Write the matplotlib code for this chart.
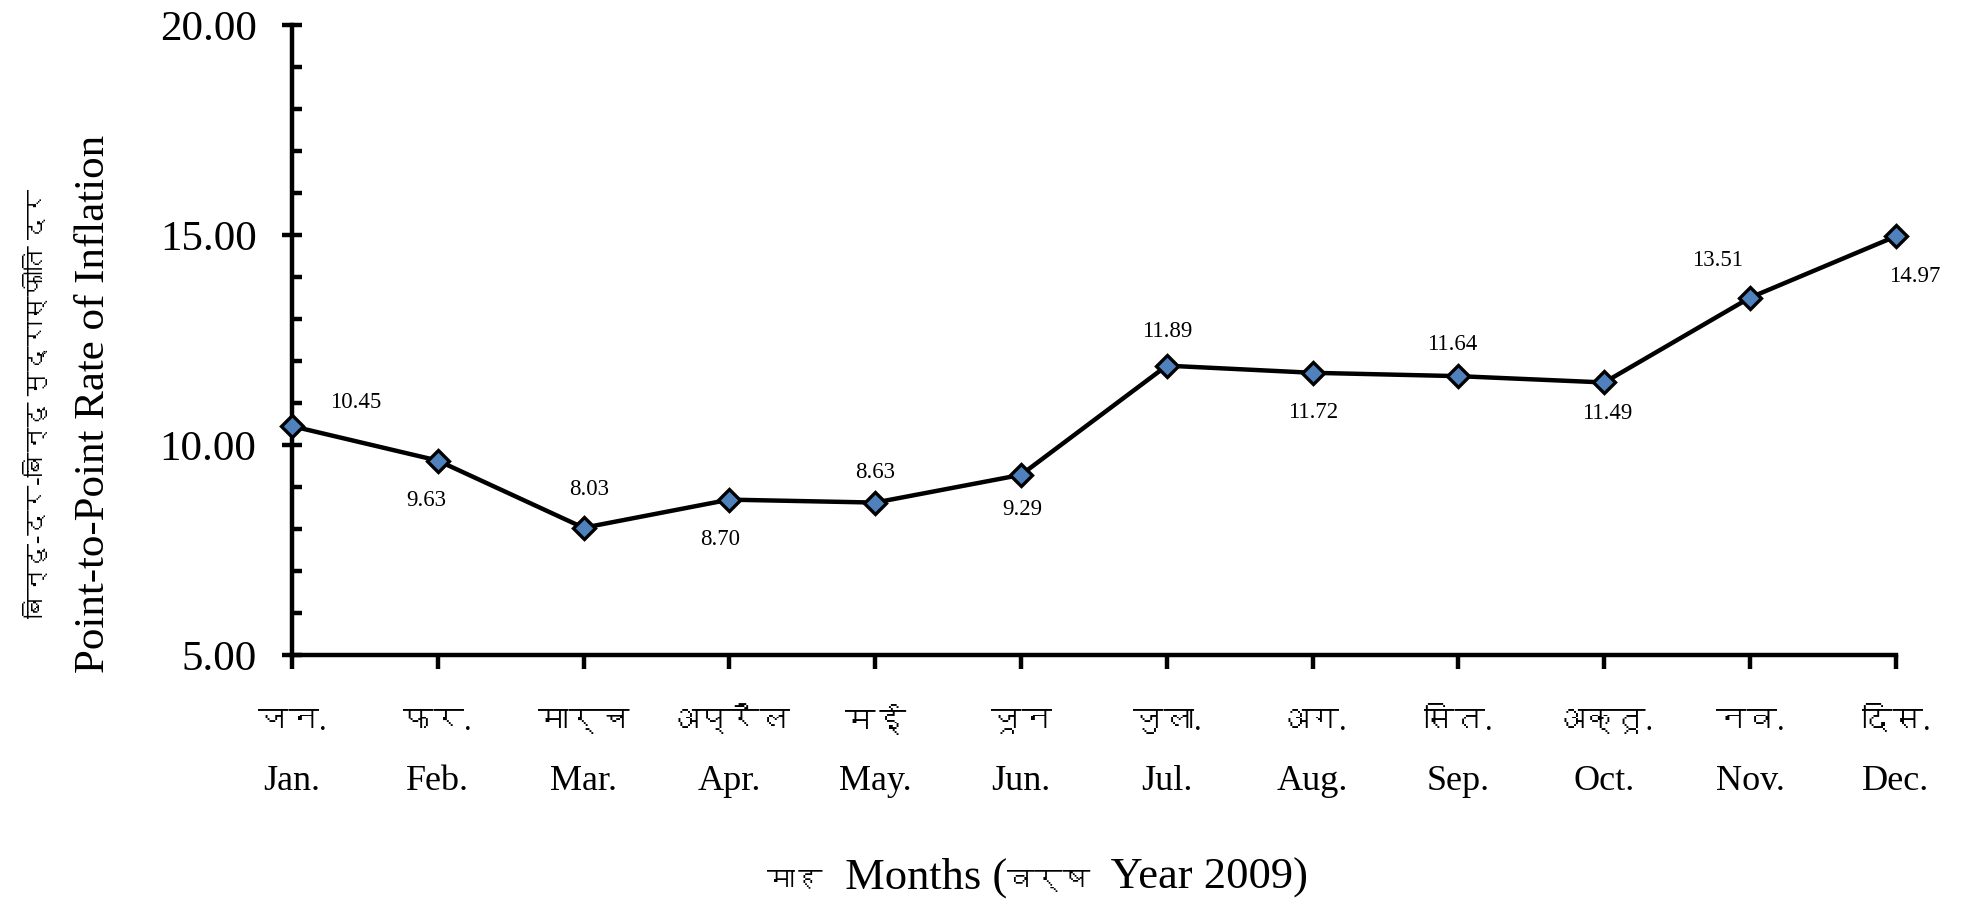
import numpy as np
import matplotlib
matplotlib.use("Agg")
import matplotlib.pyplot as plt
from matplotlib import font_manager as fm
from matplotlib.ft2font import FT2Font
from matplotlib.offsetbox import TextArea, HPacker, AnnotationBbox

# data
months_en = ["Jan.", "Feb.", "Mar.", "Apr.", "May.", "Jun.",
             "Jul.", "Aug.", "Sep.", "Oct.", "Nov.", "Dec."]
months_hi = ["जन.", "फर.", "मार्च", "अप्रैल", "मई", "जून",
             "जुला.", "अग.", "सित.", "अक्तू.", "नव.", "दिस."]
inflation = [10.45, 9.63, 8.03, 8.70, 8.63, 9.29,
             11.89, 11.72, 11.64, 11.49, 13.51, 14.97]
# label offsets in pixels (dx, dy up) relative to each marker
label_dx = [64, -12, 6, -9, 0, 1, 0, 0, -6, 3, -33, 19]
label_dy = [24, -40, 38, -40, 30, -35, 34, -40, 32, -31, 37, -40]

ylabel_en = "Point-to-Point Rate of Inflation"
ylabel_hi = "बिन्दु-दर-बिन्दु मुद्रास्फीति दर"
xlabel_parts = ["माह", "  Months (", "वर्ष", "  Year 2009)"]
xlabel_sizes = [20, 32, 20, 32]


# find some installed font that has Devanagari glyphs, if any
def find_deva():
    seen = set()
    for f in fm.fontManager.ttflist:
        if f.name in seen:
            continue
        seen.add(f.name)
        try:
            if 0x0915 in FT2Font(f.fname).get_charmap():
                return f.name
        except Exception:
            pass
    return None


deva = find_deva()
fam = ["Liberation Serif"] + ([deva] if deva else []) + ["DejaVu Sans"]
plt.rcParams["font.family"] = fam

fig = plt.figure(figsize=(19.62, 9.07), dpi=100)
ax = fig.add_axes([0.1488, 0.2778, 0.8175, 0.6946])

x = np.arange(len(inflation))
ax.plot(x, inflation, color="black", lw=3.2, marker="D", markersize=11.5,
        markerfacecolor="#4F81BD", markeredgecolor="black", markeredgewidth=2.4,
        zorder=3, clip_on=False)

px = 72 / 100  # pixels -> points
for i, v in enumerate(inflation):
    ax.annotate(f"{v:.2f}", (x[i], v), xytext=(label_dx[i] * px, label_dy[i] * px),
                textcoords="offset points", ha="center", va="center", fontsize=16.5)

ax.set_xlim(0, 11)
ax.set_ylim(5, 20)
ax.set_yticks([5, 10, 15, 20])
ax.set_yticks(np.arange(5, 21, 1), minor=True)
ax.set_yticklabels([f"{t:.2f}" for t in [5, 10, 15, 20]], fontsize=31)
ax.set_xticks(x)
ax.set_xticklabels(months_en, fontsize=26)

# Hindi month names above the English ones
for i, h in enumerate(months_hi):
    ax.annotate(h, (x[i], 0), xycoords=("data", "axes fraction"),
                xytext=(0, -67 * px), textcoords="offset points",
                ha="center", va="center", fontsize=22, annotation_clip=False)

for s in ["top", "right"]:
    ax.spines[s].set_visible(False)
for s in ["left", "bottom"]:
    ax.spines[s].set_linewidth(3.2)

ax.tick_params(axis="y", which="major", direction="inout", length=15, width=3.2, pad=18)
ax.tick_params(axis="y", which="minor", direction="in", length=7, width=3.2)
ax.tick_params(axis="x", which="major", direction="out", length=10, width=3.2, pad=69)

fig.text(0.048, 0.555, ylabel_en, rotation=90, ha="center", va="center", fontsize=31)
fig.text(0.019, 0.555, ylabel_hi, rotation=90, ha="center", va="center", fontsize=18)

parts = [TextArea(t, textprops=dict(fontsize=s)) for t, s in zip(xlabel_parts, xlabel_sizes)]
box = HPacker(children=parts, align="baseline", pad=0, sep=0)
fig.add_artist(AnnotationBbox(box, (0.529, 0.032), xycoords="figure fraction",
                              frameon=False, box_alignment=(0.5, 0.5)))

fig.savefig("out.png", dpi=100)
